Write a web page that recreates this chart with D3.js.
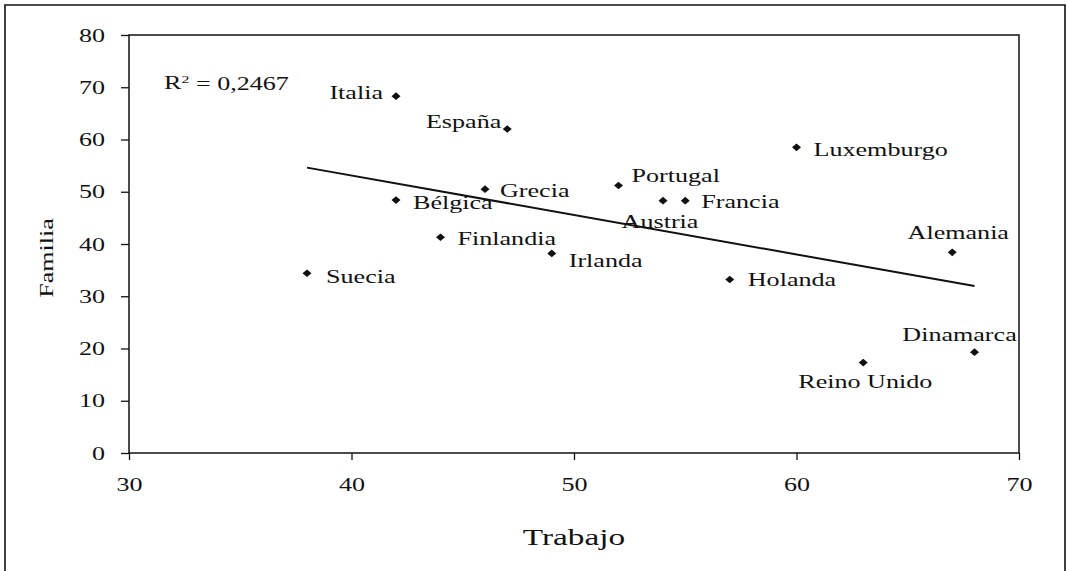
<!DOCTYPE html>
<html><head><meta charset="utf-8">
<script src="https://cdn.jsdelivr.net/npm/d3@7"></script>
<style>
body{margin:0;background:#fff}
text{font-family:"Liberation Serif","Times New Roman",serif;fill:#111}
</style>
</head><body>
<svg id="c" width="1066" height="571"></svg>
<script>
// ---- data ----
const countries = ["Italia","España","Grecia","Portugal","Austria","Francia","Bélgica","Finlandia","Irlanda","Holanda","Luxemburgo","Suecia","Alemania","Dinamarca","Reino Unido"];
const trabajo   = [42, 47, 46, 52, 54, 55, 42, 44, 49, 57, 60, 38, 67, 68, 63];
const familia   = [68.3, 62, 50.5, 51.2, 48.3, 48.3, 48.4, 41.3, 38.2, 33.2, 58.5, 34.4, 38.4, 19.3, 17.3];
const xTicks = [30, 40, 50, 60, 70];
const yTicks = [0, 10, 20, 30, 40, 50, 60, 70, 80];
const r2Text = "0,2467";
const xTitle = "Trabajo";
const yTitle = "Familia";

// ---- label placement (layout only) ----
const place = {
  "Italia":      {a:"end",    dx:-13, dy:-3},
  "España":      {a:"end",    dx:-6,  dy:-7},
  "Grecia":      {a:"start",  dx:15,  dy:2},
  "Portugal":    {a:"start",  dx:13,  dy:-10},
  "Austria":     {a:"middle", dx:-3,  dy:21},
  "Francia":     {a:"start",  dx:16,  dy:1},
  "Bélgica":     {a:"start",  dx:17,  dy:3},
  "Finlandia":   {a:"start",  dx:17,  dy:1},
  "Irlanda":     {a:"start",  dx:17,  dy:7},
  "Holanda":     {a:"start",  dx:18,  dy:0},
  "Luxemburgo":  {a:"start",  dx:17,  dy:2},
  "Suecia":      {a:"start",  dx:19,  dy:3},
  "Alemania":    {a:"middle", dx:6,   dy:-20},
  "Dinamarca":   {a:"middle", dx:-15, dy:-17},
  "Reino Unido": {a:"middle", dx:2,   dy:19}
};

const SX = 1.45;   // horizontal stretch of the scanned type
const svg = d3.select("#c");
const L = 129, R = 1019, T = 35, B = 453;
const x = d3.scaleLinear().domain([30, 70]).range([L, R]);
const y = d3.scaleLinear().domain([0, 80]).range([B, T]);

// outer frame
svg.append("path")
  .attr("d", `M5,571 L5,5 L1065,5 L1065,571`)
  .attr("fill","none").attr("stroke","#111").attr("stroke-width",1.6);

// plot box
svg.append("rect").attr("x",L).attr("y",T).attr("width",R-L).attr("height",B-T)
  .attr("fill","none").attr("stroke","#111").attr("stroke-width",1.5);

// y axis
const gy = svg.append("g").attr("transform",`translate(${L},0)`)
  .call(d3.axisLeft(y).tickValues(yTicks).tickSize(8).tickFormat(d3.format("d")));
gy.select(".domain").remove();
gy.attr("font-family",null).attr("font-size",18);
gy.selectAll(".tick line").attr("stroke","#111").attr("stroke-width",1.3);
gy.selectAll(".tick text").attr("x",null).attr("dy","0.34em")
  .attr("transform",`translate(-24,0) scale(${SX},1)`);

// x axis
const gx = svg.append("g").attr("transform",`translate(0,${B})`)
  .call(d3.axisBottom(x).tickValues(xTicks).tickSize(7).tickFormat(d3.format("d")));
gx.select(".domain").remove();
gx.attr("font-family",null).attr("font-size",18);
gx.selectAll(".tick line").attr("stroke","#111").attr("stroke-width",1.3);
gx.selectAll(".tick text").attr("y",null).attr("dy","0.35em")
  .attr("transform",`translate(0,32) scale(${SX},1)`);

// axis titles
svg.append("text").attr("font-size",23).attr("text-anchor","middle").attr("dy","0.35em")
  .attr("transform",`translate(${(L+R)/2},537) scale(${SX},1)`).text(xTitle);
svg.append("text").attr("font-size",18).attr("text-anchor","middle").attr("dy","0.35em")
  .attr("transform",`translate(47,258) rotate(-90) scale(${SX},1)`).text(yTitle);

// trend line (least squares)
const n = trabajo.length;
const mx = d3.mean(trabajo), my = d3.mean(familia);
let sxy = 0, sxx = 0;
for (let i = 0; i < n; i++) { sxy += (trabajo[i]-mx)*(familia[i]-my); sxx += (trabajo[i]-mx)**2; }
const slope = sxy/sxx, icpt = my - slope*mx;
const [x0, x1] = d3.extent(trabajo);
svg.append("line")
  .attr("x1", x(x0)).attr("y1", y(icpt + slope*x0))
  .attr("x2", x(x1)).attr("y2", y(icpt + slope*x1))
  .attr("stroke","#111").attr("stroke-width",2);

// R² label
const r2 = svg.append("text").attr("font-size",18).attr("dy","0.35em")
  .attr("transform",`translate(164,83) scale(${SX},1)`);
r2.append("tspan").text("R");
r2.append("tspan").attr("font-size",11).attr("dy","-0.6em").text("2");
r2.append("tspan").attr("dy","0.4em").text(" = " + r2Text);

// points
const pts = countries.map((c,i)=>({c, tx:trabajo[i], fy:familia[i]}));
svg.append("g").selectAll("path").data(pts).join("path")
  .attr("d", d => { const px=x(d.tx), py=y(d.fy);
    return `M${px-4.5},${py} L${px},${py-3.8} L${px+4.5},${py} L${px},${py+3.8} Z`; })
  .attr("fill","#111");

// labels
svg.append("g").selectAll("text").data(pts).join("text")
  .attr("font-size",18).attr("dy","0.35em")
  .attr("text-anchor", d => place[d.c].a)
  .attr("transform", d => `translate(${x(d.tx)+place[d.c].dx},${y(d.fy)+place[d.c].dy}) scale(${SX},1)`)
  .text(d => d.c);
</script>
</body></html>
